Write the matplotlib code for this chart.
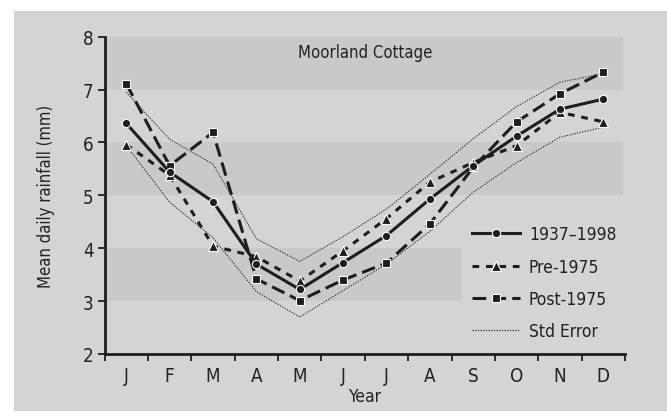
import matplotlib
matplotlib.use("Agg")
import matplotlib.pyplot as plt
from matplotlib.patches import Rectangle
import numpy as np

plt.rcParams['font.family'] = ['DejaVu Sans']
plt.rcParams['font.stretch'] = 'condensed'

months = ["J", "F", "M", "A", "M", "J", "J", "A", "S", "O", "N", "D"]
all_years = [6.36, 5.44, 4.88, 3.70, 3.22, 3.73, 4.24, 4.93, 5.56, 6.12, 6.63, 6.82]
pre_1975 = [5.96, 5.38, 4.04, 3.84, 3.38, 3.95, 4.56, 5.25, 5.62, 5.94, 6.57, 6.39]
post_1975 = [7.11, 5.56, 6.19, 3.42, 3.01, 3.40, 3.72, 4.46, 5.53, 6.39, 6.92, 7.33]
se_upper = [6.95, 6.06, 5.59, 4.18, 3.75, 4.22, 4.74, 5.40, 6.07, 6.68, 7.14, 7.30]
se_lower = [5.94, 4.87, 4.20, 3.18, 2.70, 3.20, 3.70, 4.32, 5.06, 5.62, 6.10, 6.29]

W, H = 667, 414
fig = plt.figure(figsize=(W / 100, H / 100), dpi=100)
fig.patch.set_facecolor("white")
panel = "#d3d4d6"
band = "#c8c9cb"

bg = fig.add_axes([0, 0, 1, 1], zorder=-10)
bg.set_xlim(0, W)
bg.set_ylim(H, 0)
bg.axis("off")
bg.add_patch(Rectangle((14, 12), W - 14, 400, facecolor=panel, edgecolor="none"))

ax = fig.add_axes([104.6 / W, 1 - 355 / H, (625 - 104.6) / W, (355 - 37.7) / H], zorder=1)
ax.set_facecolor(panel)
ax.patch.set_alpha(0)
ax.set_xlim(0, 12)
ax.set_ylim(2, 8)

ax.axhspan(7, 8, xmin=0, xmax=0.996, color=band, lw=0, zorder=0)
ax.axhspan(5, 6, xmin=0, xmax=0.996, color=band, lw=0, zorder=0)
ax.axhspan(3, 4, xmin=0, xmax=0.687, color=band, lw=0, zorder=0)

x = np.arange(len(months)) + 0.5

ax.plot(x, se_upper, color="#333333", lw=0.8, ls=(0, (1.2, 1.2)), zorder=2)
ax.plot(x, se_lower, color="#333333", lw=0.8, ls=(0, (1.2, 1.2)), zorder=2,
        label="Std Error")
ax.plot(x, all_years, color="#1e1e1e", lw=2.2, marker="o", ms=6,
        mfc="#1e1e1e", mec="white", mew=0.8, zorder=4, label="1937\u20131998")
ax.plot(x, pre_1975, color="#1e1e1e", lw=2.2, ls=(0, (2.2, 2.2)), marker="^",
        ms=7, mfc="#1e1e1e", mec="white", mew=0.8, zorder=3, label="Pre-1975")
ax.plot(x, post_1975, color="#1e1e1e", lw=2.2, ls=(0, (4.5, 2.0)), marker="s",
        ms=6, mfc="#1e1e1e", mec="white", mew=0.8, zorder=3, label="Post-1975")

for s in ["top", "right"]:
    ax.spines[s].set_visible(False)
for s in ["left", "bottom"]:
    ax.spines[s].set_linewidth(2.0)
    ax.spines[s].set_color("#1e1e1e")

ax.set_xticks(np.arange(0, 13))
ax.set_xticklabels([])
ax.set_xticks(x, minor=True)
ax.set_xticklabels(months, minor=True)
ax.tick_params(axis="x", which="major", direction="out", length=5, width=1.3, color="#1e1e1e")
ax.tick_params(axis="x", which="minor", length=0, pad=9, labelsize=13.5, labelcolor="#222222")
ax.set_yticks(range(2, 9))
ax.tick_params(axis="y", direction="out", length=5, width=1.3, color="#1e1e1e",
               labelsize=13.5, labelcolor="#222222", pad=3)

ax.set_xlabel("Year", fontsize=12.5, color="#222222", labelpad=1)
ax.set_ylabel("Mean daily rainfall (mm)", fontsize=12, color="#222222", labelpad=20)

ax.text(0.5, 7.72, "Moorland Cottage", transform=ax.get_yaxis_transform(),
        ha="center", va="center", fontsize=12, color="#222222")

handles, labels = ax.get_legend_handles_labels()
order = [1, 2, 3, 0]
leg = ax.legend([handles[i] for i in order], [labels[i] for i in order],
                loc="lower left", bbox_to_anchor=(0.692, 0.022), frameon=False,
                fontsize=12.5, handlelength=2.8, handletextpad=0.5,
                labelspacing=0.82, numpoints=1, borderaxespad=0)
for t in leg.get_texts():
    t.set_color("#222222")

fig.savefig("out.png", dpi=100, facecolor="white")
